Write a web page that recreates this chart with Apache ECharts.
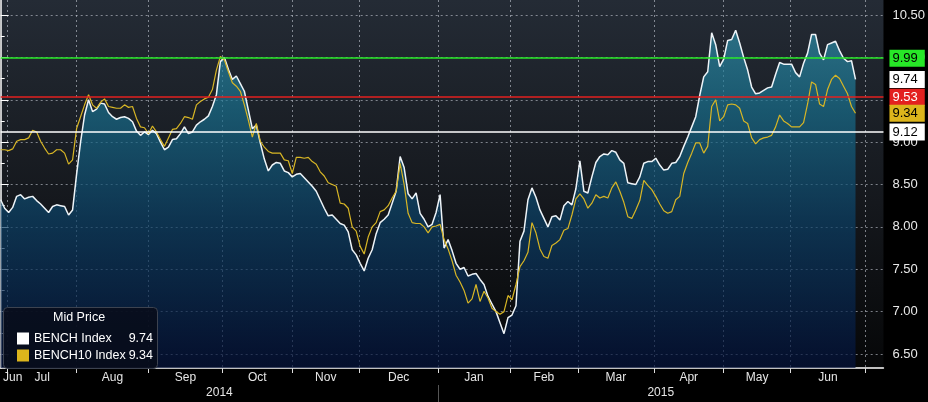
<!DOCTYPE html>
<html><head><meta charset="utf-8">
<script src="https://cdn.jsdelivr.net/npm/echarts@6/dist/echarts.min.js"></script>
<style>html,body{margin:0;padding:0;background:#000;overflow:hidden}#c{width:928px;height:402px}</style>
</head><body><div id="c"></div>
<script>
// ---- data (one sample per trading-day slot) ----
const bench = [
8.32,8.22,8.17,8.23,8.36,8.38,8.33,8.35,8.36,8.31,8.27,8.22,8.17,8.24,8.26,8.25,8.24,8.14,8.20,8.62,
9.00,9.32,9.50,9.36,9.39,9.46,9.45,9.35,9.30,9.27,9.29,9.30,9.28,9.24,9.13,9.08,9.12,9.09,9.14,9.10,
9.00,8.91,8.94,9.03,9.04,9.10,9.18,9.10,9.12,9.20,9.24,9.27,9.31,9.42,9.56,9.95,10.00,9.86,9.74,9.78,
9.69,9.60,9.38,9.16,9.20,8.99,8.80,8.66,8.73,8.76,8.75,8.66,8.64,8.59,8.62,8.63,8.58,8.53,8.48,8.42,
8.32,8.22,8.13,8.14,8.09,8.04,8.02,7.94,7.73,7.67,7.57,7.48,7.63,7.73,7.92,8.05,8.09,8.14,8.28,8.42,
8.83,8.70,8.39,8.33,8.40,8.16,8.09,8.00,8.03,8.17,8.38,7.75,7.85,7.72,7.57,7.50,7.52,7.42,7.44,7.45,
7.38,7.32,7.18,7.09,7.00,6.87,6.74,6.93,6.96,7.07,7.83,7.95,8.32,8.46,8.35,8.20,8.10,8.00,8.12,8.13,
8.08,8.25,8.30,8.26,8.45,8.78,8.42,8.40,8.59,8.76,8.83,8.86,8.85,8.90,8.88,8.79,8.75,8.52,8.51,8.50,
8.59,8.75,8.77,8.77,8.81,8.73,8.67,8.68,8.75,8.76,8.83,8.95,9.06,9.18,9.30,9.55,9.77,9.83,10.29,10.15,
9.89,9.98,10.20,10.21,10.32,10.17,10.00,9.85,9.65,9.57,9.58,9.61,9.64,9.65,9.80,9.94,9.92,9.92,9.92,9.82,
9.77,9.93,10.05,10.27,10.27,10.05,9.97,10.15,10.17,10.19,10.08,9.99,9.95,9.96,9.74
];
const bench10 = [
8.91,8.91,8.90,8.92,9.01,9.03,9.03,9.05,9.14,9.12,9.01,8.93,8.86,8.87,8.91,8.91,8.87,8.74,8.79,9.16,
9.30,9.44,9.56,9.44,9.40,9.47,9.51,9.42,9.41,9.40,9.40,9.44,9.41,9.42,9.28,9.18,9.17,9.10,9.19,9.12,
9.03,8.95,9.05,9.15,9.16,9.22,9.30,9.29,9.27,9.44,9.48,9.51,9.53,9.62,9.85,10.01,9.97,9.83,9.70,9.66,
9.60,9.44,9.26,9.06,9.22,9.01,8.94,8.89,8.87,8.87,8.87,8.79,8.78,8.63,8.82,8.82,8.81,8.82,8.77,8.74,
8.65,8.60,8.52,8.50,8.48,8.28,8.27,8.22,8.00,7.95,7.77,7.68,7.88,8.00,8.05,8.18,8.20,8.25,8.34,8.42,
8.75,8.50,8.16,8.05,8.04,8.04,8.00,7.93,8.00,8.01,8.03,7.85,7.74,7.60,7.43,7.35,7.25,7.10,7.15,7.32,
7.12,7.24,7.16,7.04,7.00,6.97,7.00,7.19,7.14,7.32,7.53,7.60,7.70,8.05,7.93,7.74,7.65,7.63,7.78,7.81,
7.85,7.96,7.98,8.14,8.33,8.39,8.33,8.22,8.28,8.38,8.34,8.36,8.34,8.46,8.53,8.42,8.29,8.12,8.10,8.20,
8.31,8.55,8.49,8.44,8.36,8.27,8.19,8.16,8.18,8.32,8.36,8.63,8.76,8.87,8.99,8.99,8.87,8.95,9.42,9.50,
9.25,9.30,9.44,9.45,9.44,9.40,9.25,9.22,9.05,8.98,9.03,9.05,9.06,9.08,9.18,9.32,9.25,9.22,9.18,9.18,
9.18,9.23,9.45,9.71,9.68,9.45,9.42,9.62,9.74,9.79,9.75,9.66,9.57,9.42,9.34
];
const seriesNames = ['BENCH Index', 'BENCH10 Index'];
const monthStarts = [1.75, 19, 37, 55.5, 73, 89.75, 109.5, 127.5, 144.5, 163.5, 181, 197.75, 216.5];
const monthNames = ['Jul','Aug','Sep','Oct','Nov','Dec','Jan','Feb','Mar','Apr','May','Jun'];
const firstMonthName = 'Jun';
const yearNames = ['2014', '2015'];
const yearBounds = [0, 109.5, 221];
const yTickValues = [6.5, 7.0, 7.5, 8.0, 8.5, 9.0, 9.5, 10.0, 10.5];
const refLevels = [9.99, 9.53, 9.12];

// ---- layout / style ----
const FONT = 'Liberation Sans, Arial, sans-serif';
const xMax = 221;
const yMin = 6.3348, yMax = 10.677;
const refColors = ['#27e827', '#e3201f', '#ffffff'];
const refText = ['#000', '#fff', '#000'];

const monthLabelPos = [], monthLabelName = {};
monthLabelPos.push(3); monthLabelName[3] = firstMonthName;
for (let i = 0; i < monthNames.length; i++) {
  const m = (monthStarts[i] + monthStarts[i + 1]) / 2;
  monthLabelPos.push(m); monthLabelName[m] = monthNames[i];
}
const yearLabelPos = [], yearLabelName = {};
for (let i = 0; i < yearNames.length; i++) {
  const m = (yearBounds[i] + yearBounds[i + 1]) / 2;
  yearLabelPos.push(m); yearLabelName[m] = yearNames[i];
}
const toPairs = arr => arr.map((v, i) => [i, v]);
const lastB = bench[bench.length - 1], lastB10 = bench10[bench10.length - 1];

function tag(val, bg, fg, lineColor, showLine) {
  return {
    yAxis: val,
    lineStyle: { color: showLine ? lineColor : 'rgba(0,0,0,0)', width: 1.5, type: 'solid', opacity: 1 },
    label: {
      show: true, position: 'end', distance: 6, formatter: val.toFixed(2), opacity: 1,
      backgroundColor: bg, color: fg, fontSize: 13, fontFamily: FONT,
      padding: [2, 7, 1, 3], lineHeight: 14
    }
  };
}
const markData = [
  tag(refLevels[0], refColors[0], refText[0], refColors[0], true),
  tag(lastB, '#ffffff', '#000', '#fff', false),
  tag(refLevels[1], refColors[1], refText[1], refColors[1], true),
  tag(lastB10, '#dcb51c', '#000', '#dcb51c', false),
  tag(refLevels[2], refColors[2], refText[2], refColors[2], true)
];

const chart = echarts.init(document.getElementById('c'), null, { renderer: 'canvas' });
const dash = { color: 'rgba(195,200,210,0.6)', width: 1, type: [2, 3] };
chart.setOption({
  animation: false,
  backgroundColor: '#000',
  grid: {
    left: 0, right: 44, top: 0, bottom: 34, show: true, borderWidth: 0,
    backgroundColor: new echarts.graphic.LinearGradient(0, 0, 0, 1, [
      { offset: 0, color: '#242b35' }, { offset: 0.55, color: '#15181d' }, { offset: 1, color: '#060708' }
    ])
  },
  xAxis: [{
    type: 'value', min: 0, max: xMax, position: 'bottom',
    axisLine: { show: true, lineStyle: { color: '#ffffff', width: 1.5 } },
    axisTick: { show: true, length: 5, customValues: monthStarts, lineStyle: { color: '#dddddd' } },
    splitLine: { show: true, lineStyle: dash },
    axisLabel: {
      customValues: monthLabelPos, margin: 4, color: '#e6e6e6', fontSize: 12, fontFamily: FONT,
      formatter: v => monthLabelName[v] || ''
    }
  }, {
    type: 'value', min: 0, max: xMax, position: 'bottom', offset: 17,
    axisLine: { show: false },
    axisTick: { show: true, length: 18, customValues: [yearBounds[1]], lineStyle: { color: '#555' } },
    splitLine: { show: false },
    axisLabel: {
      customValues: yearLabelPos, margin: 2, color: '#e6e6e6', fontSize: 12, fontFamily: FONT,
      formatter: v => yearLabelName[v] || ''
    }
  }],
  yAxis: {
    type: 'value', position: 'right', min: yMin, max: yMax, splitNumber: 9,
    axisLine: { show: true, lineStyle: { color: '#ffffff', width: 1.5 } },
    axisTick: { show: true, length: 8, customValues: yTickValues, lineStyle: { color: '#ffffff' } },
    minorTick: { show: true, splitNumber: 2, length: 4, lineStyle: { color: '#ffffff' } },
    splitLine: { show: true, lineStyle: dash },
    axisLabel: {
      customValues: yTickValues, margin: 9, color: '#e8e8e8', fontSize: 13, fontFamily: FONT,
      formatter: v => v.toFixed(2)
    }
  },
  legend: {
    show: true, orient: 'vertical', left: 12, top: 327, itemWidth: 12, itemHeight: 12, itemGap: 4,
    icon: 'rect', z: 20, selectedMode: false,
    data: seriesNames,
    textStyle: {
      color: '#ffffff', fontSize: 12.5, fontFamily: FONT,
      rich: { n: { width: 95, color: '#fff', fontSize: 12.5, fontFamily: FONT },
              v: { width: 24, align: 'right', color: '#fff', fontSize: 12.5, fontFamily: FONT } }
    },
    formatter: name => `{n|${name}}{v|${(name === seriesNames[0] ? lastB : lastB10).toFixed(2)}}`
  },
  graphic: [
    { type: 'rect', z: 15, left: 3, top: 307, shape: { width: 154, height: 61, r: 4 },
      style: { fill: 'rgba(8,12,26,0.88)', stroke: '#3d4350', lineWidth: 1 } },
    { type: 'text', z: 16, left: 53, top: 311, style: { text: 'Mid Price', fill: '#ffffff', font: '12.5px ' + FONT } }
  ],
  series: [{
    name: seriesNames[0], type: 'line', data: toPairs(bench), symbol: 'none', clip: false,
    itemStyle: { color: '#ffffff' },
    lineStyle: { color: '#eef4f8', width: 1.5 },
    areaStyle: {
      origin: 'start',
      color: new echarts.graphic.LinearGradient(0, 0, 0, 368, [
        { offset: 0, color: '#3599b2' }, { offset: 0.3, color: '#186e8c' },
        { offset: 0.6, color: '#0b4066' }, { offset: 1, color: '#04123c' }
      ], true)
    }
  }, {
    name: seriesNames[1], type: 'line', data: toPairs(bench10), symbol: 'none', clip: false,
    itemStyle: { color: '#dcb51c' },
    lineStyle: { color: '#d8b625', width: 1.2 },
    markLine: { silent: true, symbol: ['none', 'none'], animation: false, data: markData }
  }]
});
</script></body></html>
